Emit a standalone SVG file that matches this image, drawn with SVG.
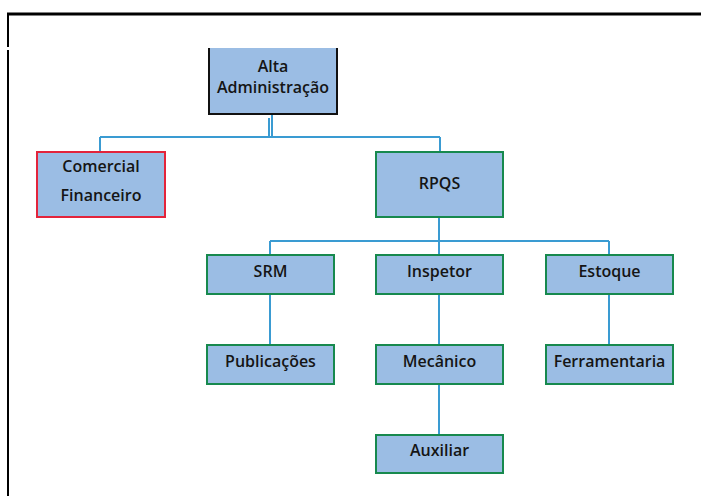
<svg xmlns="http://www.w3.org/2000/svg" width="701" height="496" viewBox="0 0 701 496">
<style>
.box{fill:#9bbde4;stroke-width:2}
.g{stroke:#17894e}
.r{stroke:#e3243b}
.t{font-family:"Open Sans","Liberation Sans",sans-serif;font-weight:600;font-size:16px;fill:#151515;text-anchor:middle}
.c{stroke:#3a9bd2;stroke-width:2;fill:none}
</style>
<rect width="701" height="496" fill="#fff"/>
<g id="frame" stroke="#000" fill="none">
<path d="M7,14 H701" stroke-width="3"/>
<path d="M8,13 V47 M8,50 V496" stroke-width="2"/>
</g>
<g id="connectors">
<path class="c" d="M272,114 V137 M100,137 H440 M100,137 V152 M440,137 V152"/>
<path class="c" d="M269,118 V137" stroke-width="1.2"/>
<path class="c" d="M439,217 V241 M270,241 H609 M270,241 V255 M609,241 V255 M439,241 V255"/>
<path class="c" d="M270,294 V345 M439,294 V345 M609,294 V345 M439,384 V435"/>
</g>
<g id="alta">
<path class="box" d="M209,48 V114 H337 V48 Z" stroke="none"/>
<path d="M209,48 V114 H337 V48" fill="none" stroke="#111" stroke-width="2"/>
<text class="t" x="273" y="72">Alta</text>
<text class="t" x="273" y="93">Administração</text>
</g>
<g id="comercial">
<rect class="box r" x="37" y="152" width="128" height="65"/>
<text class="t" x="101" y="172">Comercial</text>
<text class="t" x="101" y="201">Financeiro</text>
</g>
<g id="rpqs">
<rect class="box g" x="376" y="152" width="127" height="65"/>
<text class="t" x="439.5" y="189">RPQS</text>
</g>
<g id="srm">
<rect class="box g" x="207" y="255" width="127" height="39"/>
<text class="t" x="270.5" y="277">SRM</text>
</g>
<g id="inspetor">
<rect class="box g" x="376" y="255" width="127" height="39"/>
<text class="t" x="439.5" y="277">Inspetor</text>
</g>
<g id="estoque">
<rect class="box g" x="546" y="255" width="127" height="39"/>
<text class="t" x="609.5" y="277">Estoque</text>
</g>
<g id="publicacoes">
<rect class="box g" x="207" y="345" width="127" height="39"/>
<text class="t" x="270.5" y="367">Publicações</text>
</g>
<g id="mecanico">
<rect class="box g" x="376" y="345" width="127" height="39"/>
<text class="t" x="439.5" y="367">Mecânico</text>
</g>
<g id="ferramentaria">
<rect class="box g" x="546" y="345" width="127" height="39"/>
<text class="t" x="609.5" y="367">Ferramentaria</text>
</g>
<g id="auxiliar">
<rect class="box g" x="376" y="435" width="127" height="38"/>
<text class="t" x="439.5" y="456">Auxiliar</text>
</g>
</svg>
